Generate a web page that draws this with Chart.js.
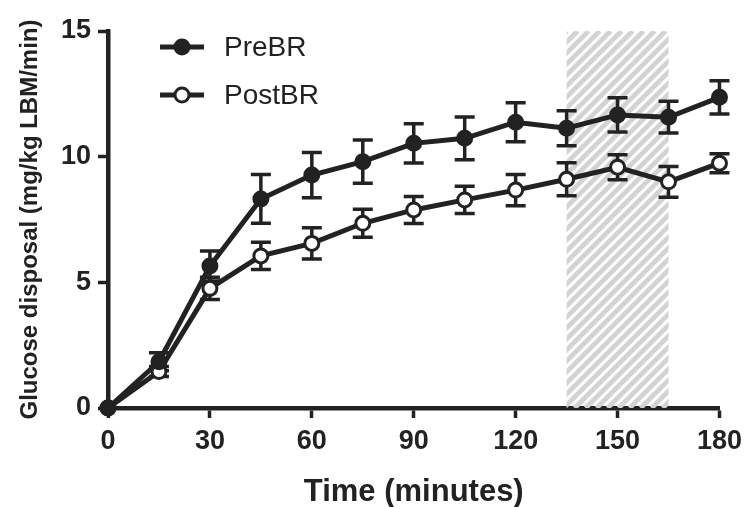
<!DOCTYPE html>
<html>
<head>
<meta charset="utf-8">
<script src="https://cdn.jsdelivr.net/npm/chart.js@4.4.1/dist/chart.umd.min.js"></script>
<style>
  html, body { margin: 0; padding: 0; background: #fff; }
  #wrap { width: 749px; height: 507px; }
</style>
</head>
<body>
<div id="wrap"><canvas id="chart" width="749" height="507"></canvas></div>
<script>
// time points (minutes)
const minutes = [0, 15, 30, 45, 60, 75, 90, 105, 120, 135, 150, 165, 180];
// glucose disposal, mean and SEM
const preBR = [0, 1.84, 5.65, 8.32, 9.27, 9.8, 10.53, 10.73, 11.37, 11.13, 11.66, 11.57, 12.36];
const preErr = [0, 0.36, 0.6, 0.97, 0.9, 0.86, 0.78, 0.85, 0.78, 0.7, 0.68, 0.63, 0.66];
const postBR = [0, 1.45, 4.76, 6.05, 6.55, 7.35, 7.88, 8.28, 8.67, 9.1, 9.58, 9.0, 9.74];
const postErr = [0, 0.2, 0.44, 0.54, 0.62, 0.56, 0.54, 0.54, 0.62, 0.66, 0.5, 0.61, 0.38];
const xTicks = [0, 30, 60, 90, 120, 150, 180];
const yTicks = [0, 5, 10, 15];
// shaded window
const shadeFrom = 135;
const shadeTo = 165;

const ink = '#222';
const sans = '"Liberation Sans", Arial, sans-serif';

function toPoints(ys) {
    return minutes.map((m, i) => ({ x: m, y: ys[i] }));
}

// hatched band behind the lines
const hatchPlugin = {
    id: 'hatch',
    beforeDatasetsDraw(chart) {
        const { ctx, chartArea, scales } = chart;
        const x0 = scales.x.getPixelForValue(shadeFrom);
        const x1 = scales.x.getPixelForValue(shadeTo);
        ctx.save();
        ctx.beginPath();
        ctx.rect(x0, chartArea.top, x1 - x0, chartArea.bottom - chartArea.top);
        ctx.clip();
        ctx.strokeStyle = '#d3d3d3';
        ctx.lineWidth = 4.8;
        const h = chartArea.bottom - chartArea.top;
        for (let s = x0 - h; s < x1 + 20; s += 11) {
            ctx.beginPath();
            ctx.moveTo(s, chartArea.bottom);
            ctx.lineTo(s + h, chartArea.top);
            ctx.stroke();
        }
        ctx.restore();
    }
};

// error bars with caps
const errorBarPlugin = {
    id: 'errorBars',
    beforeDatasetsDraw(chart) {
        const { ctx, scales } = chart;
        const sets = [[preBR, preErr], [postBR, postErr]];
        ctx.save();
        ctx.strokeStyle = ink;
        ctx.lineWidth = 3.5;
        sets.forEach(([vals, errs]) => {
            minutes.forEach((m, i) => {
                if (!errs[i]) return;
                const px = scales.x.getPixelForValue(m);
                const top = scales.y.getPixelForValue(vals[i] + errs[i]);
                const bot = scales.y.getPixelForValue(vals[i] - errs[i]);
                ctx.beginPath();
                ctx.moveTo(px, top); ctx.lineTo(px, bot);
                ctx.moveTo(px - 10, top); ctx.lineTo(px + 10, top);
                ctx.moveTo(px - 10, bot); ctx.lineTo(px + 10, bot);
                ctx.stroke();
            });
        });
        ctx.restore();
    }
};

// legend: line with marker, then label
const legendPlugin = {
    id: 'customLegend',
    afterDraw(chart) {
        const { ctx } = chart;
        const rows = [
            { label: 'PreBR', y: 47, filled: true },
            { label: 'PostBR', y: 95, filled: false }
        ];
        ctx.save();
        rows.forEach(r => {
            ctx.strokeStyle = ink;
            ctx.lineWidth = 5;
            ctx.beginPath();
            ctx.moveTo(160, r.y); ctx.lineTo(204, r.y);
            ctx.stroke();
            ctx.beginPath();
            ctx.arc(182, r.y, 7, 0, Math.PI * 2);
            ctx.fillStyle = r.filled ? ink : '#fff';
            ctx.fill();
            ctx.lineWidth = 3;
            ctx.stroke();
            ctx.fillStyle = ink;
            ctx.font = '28px ' + sans;
            ctx.textBaseline = 'middle';
            ctx.fillText(r.label, 224, r.y + 1);
        });
        ctx.restore();
    }
};

new Chart(document.getElementById('chart'), {
    type: 'line',
    data: {
        datasets: [
            {
                label: 'PreBR',
                data: toPoints(preBR),
                borderColor: ink,
                borderWidth: 5,
                pointRadius: 7.5,
                pointBackgroundColor: ink,
                pointBorderColor: ink,
                pointBorderWidth: 2,
                tension: 0
            },
            {
                label: 'PostBR',
                data: toPoints(postBR),
                borderColor: ink,
                borderWidth: 5,
                pointRadius: 7,
                pointBackgroundColor: '#fff',
                pointBorderColor: ink,
                pointBorderWidth: 3,
                tension: 0
            }
        ]
    },
    options: {
        responsive: false,
        animation: false,
        clip: false,
        layout: { padding: { left: 0, top: 31, right: 29, bottom: 0 } },
        plugins: {
            legend: { display: false },
            tooltip: { enabled: false }
        },
        scales: {
            x: {
                type: 'linear',
                min: 0,
                max: 180,
                afterBuildTicks(scale) { scale.ticks = xTicks.map(v => ({ value: v })); },
                afterFit(scale) { scale.height = 99; },
                border: { display: true, width: 4.5, color: ink },
                grid: { drawOnChartArea: false, drawTicks: true, tickLength: 10, tickWidth: 3.5, tickColor: ink },
                ticks: {
                    color: ink,
                    padding: 7,
                    maxRotation: 0,
                    font: { family: sans, size: 27, weight: 'bold' }
                },
                title: {
                    display: true,
                    text: 'Time (minutes)',
                    color: ink,
                    padding: { top: 13, bottom: 0 },
                    font: { family: sans, size: 31, weight: 'bold', lineHeight: 0.95 }
                }
            },
            y: {
                min: 0,
                max: 15,
                afterBuildTicks(scale) { scale.ticks = yTicks.map(v => ({ value: v })); },
                afterFit(scale) { scale.width = 108; },
                border: { display: true, width: 4.5, color: ink },
                grid: { drawOnChartArea: false, drawTicks: true, tickLength: 10, tickWidth: 3.5, tickColor: ink },
                ticks: {
                    color: ink,
                    padding: 7,
                    font: { family: sans, size: 27, weight: 'bold' }
                },
                title: {
                    display: true,
                    text: 'Glucose disposal (mg/kg LBM/min)',
                    color: ink,
                    padding: { top: 16, bottom: 0 },
                    font: { family: sans, size: 24, weight: 'bold' }
                }
            }
        }
    },
    plugins: [hatchPlugin, errorBarPlugin, legendPlugin]
});
</script>
</body>
</html>
